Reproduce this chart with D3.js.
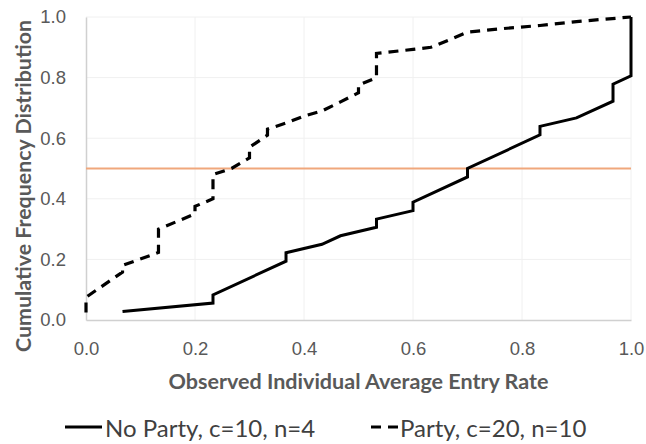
<!DOCTYPE html>
<html>
<head>
<meta charset="utf-8">
<script src="https://cdn.jsdelivr.net/npm/d3@7"></script>
<style>
  html, body { margin: 0; padding: 0; background: #ffffff; }
  svg { display: block; font-family: Lato, "Open Sans", sans-serif; }
</style>
</head>
<body>
<svg id="chart" width="646" height="444"></svg>
<script>
// ---- data ----
const noPartyX = [0.067, 0.233, 0.233, 0.367, 0.367, 0.433, 0.467, 0.533, 0.533, 0.600, 0.600, 0.700, 0.700, 0.833, 0.833, 0.900, 0.967, 0.967, 1.000, 1.000];
const noPartyY = [0.028, 0.056, 0.083, 0.194, 0.222, 0.250, 0.278, 0.306, 0.333, 0.361, 0.389, 0.472, 0.500, 0.611, 0.639, 0.667, 0.722, 0.778, 0.806, 1.000];

const partyX = [0.000, 0.000, 0.067, 0.067, 0.133, 0.133, 0.200, 0.200, 0.233, 0.233, 0.267, 0.300, 0.300, 0.333, 0.333, 0.367, 0.400, 0.433, 0.467, 0.500, 0.500, 0.533, 0.533, 0.600, 0.633, 0.667, 0.700, 0.767, 0.833, 0.900, 1.000];
const partyY = [0.025, 0.075, 0.158, 0.180, 0.223, 0.300, 0.350, 0.375, 0.400, 0.480, 0.500, 0.535, 0.570, 0.610, 0.630, 0.650, 0.673, 0.690, 0.720, 0.750, 0.775, 0.800, 0.880, 0.893, 0.900, 0.925, 0.950, 0.962, 0.972, 0.985, 1.000];

const referenceLevel = 0.5;
const xTicks = [0, 0.2, 0.4, 0.6, 0.8, 1.0];
const yTicks = [0, 0.2, 0.4, 0.6, 0.8, 1.0];
const seriesNames = ["No Party, c=10, n=4", "Party, c=20, n=10"];
const xTitle = "Observed Individual Average Entry Rate";
const yTitle = "Cumulative Frequency Distribution";

(function () {
// ---- layout ----
const svg = d3.select("#chart");
const mLeft = 86, mRight = 631, mTop = 17, mBottom = 320;

const x = d3.scaleLinear().domain([0, 1]).range([mLeft, mRight]);
const y = d3.scaleLinear().domain([0, 1]).range([mBottom, mTop]);

const grey = "#595959";

// gridlines
const grid = svg.append("g");
grid.selectAll("line.h").data(yTicks.filter(d => d > 0)).join("line")
  .attr("class", "h")
  .attr("x1", x(0)).attr("x2", x(1))
  .attr("y1", d => y(d)).attr("y2", d => y(d))
  .attr("stroke", "#f0f0f0").attr("stroke-width", 1);
grid.selectAll("line.v").data(xTicks.filter(d => d > 0)).join("line")
  .attr("class", "v")
  .attr("x1", d => x(d)).attr("x2", d => x(d))
  .attr("y1", y(0)).attr("y2", y(1))
  .attr("stroke", "#f0f0f0").attr("stroke-width", 1);

// axes
const xAxis = d3.axisBottom(x).tickValues(xTicks).tickFormat(d3.format(".1f")).tickSize(0).tickPadding(20);
const yAxis = d3.axisLeft(y).tickValues(yTicks).tickFormat(d3.format(".1f")).tickSize(0).tickPadding(20);

const gx = svg.append("g").attr("transform", `translate(0,${y(0)})`).call(xAxis);
gx.select(".domain").attr("stroke", "#d0d0d0").attr("stroke-width", 1.5);
gx.selectAll("text").attr("fill", grey).style("font-size", "18.5px").attr("dy", "0.35em").attr("y", 29);

const gy = svg.append("g").attr("transform", `translate(${x(0)},0)`).call(yAxis);
gy.select(".domain").attr("stroke", "#d0d0d0").attr("stroke-width", 1.5);
gy.selectAll("text").attr("fill", grey).style("font-size", "18.5px");

// reference line at 0.5
svg.append("line")
  .attr("x1", x(0)).attr("x2", x(1))
  .attr("y1", y(referenceLevel)).attr("y2", y(referenceLevel))
  .attr("stroke", "#f0a77c").attr("stroke-width", 2);

// series
const line = d3.line().x(d => x(d[0])).y(d => y(d[1]));
const noParty = noPartyX.map((v, i) => [v, noPartyY[i]]);
const party = partyX.map((v, i) => [v, partyY[i]]);

svg.append("path").datum(noParty).attr("d", line)
  .attr("fill", "none").attr("stroke", "#000").attr("stroke-width", 3)
  .attr("stroke-linejoin", "miter");
svg.append("path").datum(party).attr("d", line)
  .attr("fill", "none").attr("stroke", "#000").attr("stroke-width", 3.2)
  .attr("stroke-dasharray", "10,7");

// axis titles
svg.append("text")
  .attr("x", (mLeft + mRight) / 2).attr("y", 381)
  .attr("text-anchor", "middle").attr("dominant-baseline", "central")
  .attr("fill", grey).style("font-size", "20px").style("font-weight", "bold")
  .attr("textLength", 380).attr("lengthAdjust", "spacingAndGlyphs")
  .text(xTitle);

svg.append("text")
  .attr("transform", `translate(23,186) rotate(-90)`)
  .attr("text-anchor", "middle").attr("dominant-baseline", "central")
  .attr("fill", grey).style("font-size", "20px").style("font-weight", "bold")
  .attr("textLength", 332).attr("lengthAdjust", "spacingAndGlyphs")
  .text(yTitle);

// legend
const legY = 427;
const leg = svg.append("g");
leg.append("line").attr("x1", 65).attr("x2", 102).attr("y1", legY).attr("y2", legY)
  .attr("stroke", "#000").attr("stroke-width", 3);
leg.append("text").attr("x", 105).attr("y", legY).attr("dominant-baseline", "central")
  .attr("fill", "#404040").style("font-size", "24px").text(seriesNames[0]);
leg.append("line").attr("x1", 371).attr("x2", 398).attr("y1", legY).attr("y2", legY)
  .attr("stroke", "#000").attr("stroke-width", 3).attr("stroke-dasharray", "10,7");
leg.append("text").attr("x", 400).attr("y", legY).attr("dominant-baseline", "central")
  .attr("fill", "#404040").style("font-size", "24px").text(seriesNames[1]);
})();
</script>
</body>
</html>
